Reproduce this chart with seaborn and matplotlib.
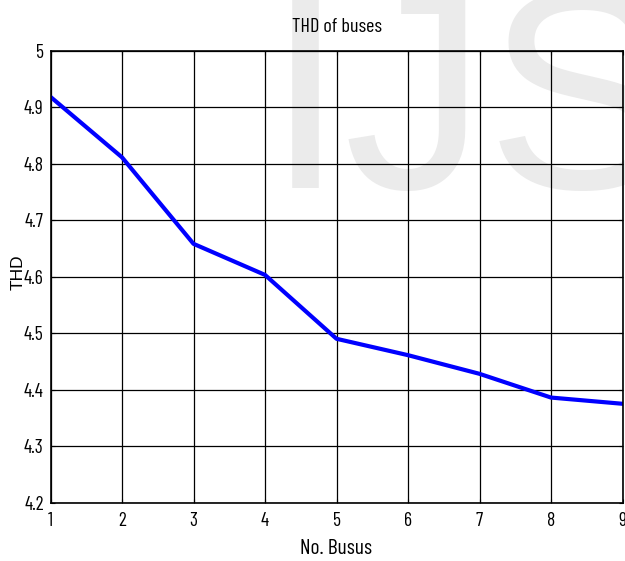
import numpy as np
import pandas as pd
import matplotlib
matplotlib.use("Agg")
import matplotlib.pyplot as plt
import seaborn as sns

# values
buses = [1, 2, 3, 4, 5, 6, 7, 8, 9]
thd = [4.918, 4.811, 4.658, 4.603, 4.490, 4.461, 4.428, 4.386, 4.375]
x_ticks = [1, 2, 3, 4, 5, 6, 7, 8, 9]
y_ticks = [4.2, 4.3, 4.4, 4.5, 4.6, 4.7, 4.8, 4.9, 5.0]
y_tick_labels = ["4.2", "4.3", "4.4", "4.5", "4.6", "4.7", "4.8", "4.9", "5"]

df = pd.DataFrame({"bus": buses, "thd": thd})

sns.set_style("white")
# narrow font like the MATLAB export
plt.rcParams["font.family"] = ["Barlow Condensed", "Archivo Narrow", "DejaVu Sans"]
plt.rcParams["text.color"] = "black"
plt.rcParams["axes.labelcolor"] = "black"

fig = plt.figure(figsize=(6.25, 5.61), dpi=100)
ax = fig.add_axes([50.5 / 625, 1 - 502.7 / 561, 572 / 625, 452.2 / 561])
ax.set_facecolor("none")

# faint watermark behind the plot
fig.text(0.4256, 1 - 188 / 561, "IJSER", fontsize=205, color="#ebebeb",
         family="Liberation Sans", ha="left", va="baseline", zorder=-10)

sns.lineplot(data=df, x="bus", y="thd", color="#0000ff", linewidth=3, ax=ax)

ax.set_xlim(1, 9)
ax.set_ylim(4.2, 5.0)
ax.set_xticks(x_ticks)
ax.set_yticks(y_ticks)
ax.set_yticklabels(y_tick_labels)
ax.tick_params(direction="in", length=3, labelsize=14,
               top=True, right=True, bottom=True, left=True, colors="black")
ax.tick_params(axis="x", pad=6.5)
ax.tick_params(axis="y", pad=5)
ax.grid(True, color="black", linewidth=0.9, linestyle="-")
for s in ax.spines.values():
    s.set_color("black")
    s.set_linewidth(1.2)

ax.set_title("THD of buses", fontsize=14.5, pad=13)
ax.set_xlabel("No. Busus", fontsize=15.5)
ax.xaxis.set_label_coords(0.5, -0.08)
ax.set_ylabel("THD", fontsize=12.5, family="Liberation Sans")
ax.yaxis.set_label_coords(-0.044, 0.51)

fig.savefig("out.png", dpi=100)
